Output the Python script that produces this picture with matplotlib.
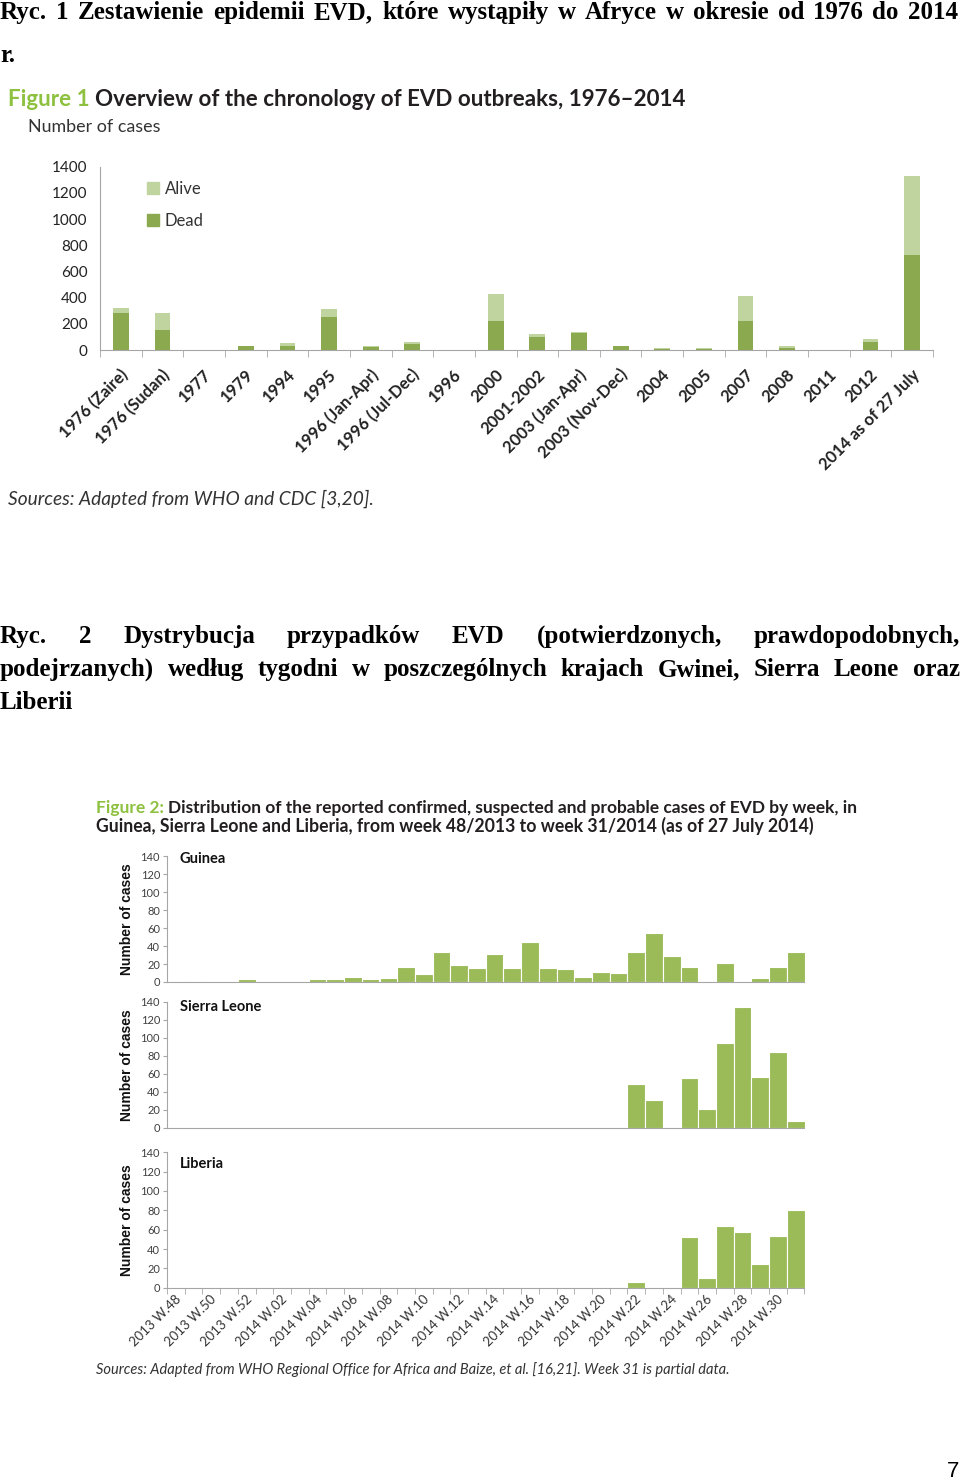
import matplotlib
matplotlib.use('Agg')
import matplotlib.pyplot as plt
from matplotlib.patches import Patch
from matplotlib.transforms import ScaledTranslation

plt.rcParams['font.family'] = ['Lato', 'DejaVu Sans']

# ---- Figure 1 data: EVD outbreaks 1976-2014 ----
outbreaks = ['1976 (Zaire)', '1976 (Sudan)', '1977', '1979', '1994', '1995',
             '1996 (Jan-Apr)', '1996 (Jul-Dec)', '1996', '2000', '2001-2002',
             '2003 (Jan-Apr)', '2003 (Nov-Dec)', '2004', '2005', '2007', '2008',
             '2011', '2012', '2014 as of 27 July']
dead = [280, 151, 1, 28, 31, 254, 25, 46, 1, 221, 100, 130, 29, 7, 10, 221, 15, 1, 58, 725]
alive = [38, 133, 0, 4, 25, 61, 3, 16, 0, 206, 20, 5, 2, 11, 3, 189, 13, 0, 29, 603]

# ---- Figure 2 data: weekly cases, 2013 W.48 .. 2014 W.31 ----
guinea = [0, 1, 0, 0, 3, 0, 0, 0, 3, 3, 6, 3, 5, 17, 9, 33, 19, 16,
          31, 16, 44, 16, 14, 6, 11, 10, 33, 54, 29, 17, 0, 21, 0, 5, 17, 33]
sierra_leone = [0, 0, 0, 0, 0, 0, 0, 0, 0, 0, 0, 0, 0, 0, 0, 0, 0, 0,
                0, 0, 0, 0, 0, 0, 0, 0, 49, 31, 0, 55, 21, 94, 134, 56, 84, 8]
liberia = [0, 0, 0, 0, 0, 0, 0, 0, 0, 0, 0, 0, 0, 0, 0, 0, 0, 0,
           0, 0, 0, 0, 0, 0, 0, 0, 6, 0, 0, 52, 10, 64, 58, 25, 53, 80]
week_labels = ['2013 W.48', '2013 W.50', '2013 W.52', '2014 W.02', '2014 W.04',
               '2014 W.06', '2014 W.08', '2014 W.10', '2014 W.12', '2014 W.14',
               '2014 W.16', '2014 W.18', '2014 W.20', '2014 W.22', '2014 W.24',
               '2014 W.26', '2014 W.28', '2014 W.30']

dead_c = '#8ba94f'
alive_c = '#c0d4a0'
bar_c = '#9bbb59'
green_t = '#8dc13f'
dark_t = '#231f20'
axis_c = '#a6a6a6'

W, H = 960, 1481
fig = plt.figure(figsize=(W / 100, H / 100), dpi=100)
fig.patch.set_facecolor('white')
rend = fig.canvas.get_renderer()


def fx(x):
    return x / W


def fy(y):
    return 1 - y / H


def wpx(t):
    return t.get_window_extent(renderer=rend).width


def put_line(x, y, parts, width=None, size=12, **kw):
    # parts: list of (text, colour); optionally scaled to a target width
    texts = [fig.text(fx(x), fy(y), s, color=c, fontsize=size, va='baseline', **kw)
             for s, c in parts]
    if width:
        size = size * width / sum(wpx(t) for t in texts)
        for t in texts:
            t.set_fontsize(size)
    cx = x
    for t in texts:
        t.set_x(fx(cx))
        cx += wpx(t)
    return texts


def justify(y, text, x0, x1, size, **kw):
    words = text.split(' ')
    texts = [fig.text(0, fy(y), w, fontsize=size, va='baseline', **kw) for w in words if w]
    ws = [wpx(t) for t in texts]
    gap = (x1 - x0 - sum(ws)) / (len(texts) - 1)
    cx = x0
    for t, w in zip(texts, ws):
        t.set_x(fx(cx))
        cx += w + gap


def add_ax(left, top, right, bottom):
    return fig.add_axes([fx(left), fy(bottom), (right - left) / W, (bottom - top) / H])


serif = dict(family='Liberation Serif', fontweight='bold', color='black')

# ---- Polish captions ----
justify(19, 'Ryc. 1 Zestawienie epidemii EVD, które wystąpiły w Afryce w okresie od 1976 do 2014',
        0, 958, 18, **serif)
fig.text(fx(0), fy(62), 'r.', fontsize=18, va='baseline', **serif)

justify(643, 'Ryc. 2 Dystrybucja przypadków EVD (potwierdzonych, prawdopodobnych,',
        0, 960, 18, **serif)
justify(676, 'podejrzanych) według tygodni w poszczególnych krajach Gwinei, Sierra Leone oraz',
        0, 960, 18, **serif)
fig.text(fx(0), fy(709), 'Liberii', fontsize=18, va='baseline', **serif)

# ---- Figure 1 ----
put_line(8, 106, [('Figure 1 ', green_t),
                  ('Overview of the chronology of EVD outbreaks, 1976\u20132014', dark_t)],
         width=680, size=15, fontweight='bold')
put_line(28, 132, [('Number of cases', '#333333')], width=132, size=11)

ax1 = add_ax(100, 166.7, 933, 350)
xs = range(len(outbreaks))
ax1.bar(xs, dead, width=0.38, color=dead_c, zorder=2)
ax1.bar(xs, alive, width=0.38, bottom=dead, color=alive_c, zorder=2)
ax1.set_xlim(-0.5, len(outbreaks) - 0.5)
ax1.set_ylim(0, 1400)
ax1.set_yticks(range(0, 1401, 200))
ax1.tick_params(axis='y', length=0, pad=9, labelsize=11, labelcolor='#222222')
ax1.set_xticks(list(xs))
ax1.set_xticklabels(outbreaks, rotation=45, ha='right', va='center',
                    rotation_mode='anchor', fontsize=12, fontweight='bold', color='#222222')
ax1.tick_params(axis='x', which='major', length=0, pad=16)
ax1.set_xticks([i - 0.5 for i in range(len(outbreaks) + 1)], minor=True)
ax1.tick_params(axis='x', which='minor', length=5, color=axis_c)
for lbl in ax1.get_xticklabels():
    lbl.set_transform(lbl.get_transform() + ScaledTranslation(0.05, 0, fig.dpi_scale_trans))
for s in ['top', 'right']:
    ax1.spines[s].set_visible(False)
for s in ['left', 'bottom']:
    ax1.spines[s].set_color(axis_c)
ax1.legend(handles=[Patch(color=alive_c, label='Alive'), Patch(color=dead_c, label='Dead')],
           loc='upper left', bbox_to_anchor=(0.047, 0.967), frameon=False, fontsize=12,
           handlelength=0.7, handleheight=0.7, handletextpad=0.35, labelspacing=0.95,
           borderpad=0, labelcolor='#333333')

put_line(8, 505, [('Sources: Adapted from WHO and CDC [3,20].', '#333333')],
         width=364, size=12, style='italic')

# ---- Figure 2 ----
put_line(96, 813, [('Figure 2: ', green_t),
                   ('Distribution of the reported confirmed, suspected and probable cases of EVD by week, in', dark_t)],
         width=754, size=12, fontweight='bold')
put_line(96, 832, [('Guinea, Sierra Leone and Liberia, from week 48/2013 to week 31/2014 (as of 27 July 2014)', dark_t)],
         width=712, size=12, fontweight='bold')

# name, values, axes top, axes bottom, country label y (pixels)
panels = [('Guinea', guinea, 856, 982, 859),
          ('Sierra Leone', sierra_leone, 1001.7, 1127.7, 1007),
          ('Liberia', liberia, 1152.3, 1287.7, 1164)]
weeks = range(len(guinea))
for i, (name, vals, top, bottom, ly) in enumerate(panels):
    ax = add_ax(167, top, 804.5, bottom)
    ax.bar(weeks, vals, width=1.0, color=bar_c, edgecolor='white', linewidth=0.8, zorder=2)
    ax.set_xlim(-0.5, len(guinea) - 0.5)
    ax.set_ylim(0, 140)
    ax.set_yticks(range(0, 141, 20))
    ax.tick_params(axis='y', length=3, color=axis_c, pad=2, labelsize=8, labelcolor='#404040')
    for s in ['top', 'right']:
        ax.spines[s].set_visible(False)
    for s in ['left', 'bottom']:
        ax.spines[s].set_color(axis_c)
    ax.set_ylabel('Number of cases', family='Liberation Sans', fontweight='bold',
                  fontsize=10, color='#111111')
    ax.yaxis.set_label_coords(-0.052, 0.5)
    fig.text(fx(180), fy(ly), name, fontsize=10.5, fontweight='bold',
             color='#111111', va='center')
    if i < 2:
        ax.set_xticks([])
    else:
        ax.set_xticks(list(range(0, len(guinea) - 1, 2)))
        ax.set_xticklabels(week_labels, rotation=45, ha='right', va='center',
                           rotation_mode='anchor', fontsize=9.5, color='#333333')
        ax.tick_params(axis='x', which='major', length=0, pad=7)
        ax.set_xticks([k - 0.5 for k in range(len(guinea) + 1)], minor=True)
        ax.tick_params(axis='x', which='minor', length=4, color=axis_c)
        for lbl in ax.get_xticklabels():
            lbl.set_transform(lbl.get_transform() + ScaledTranslation(0.03, 0, fig.dpi_scale_trans))

put_line(96, 1374, [('Sources: Adapted from WHO Regional Office for Africa and Baize, et al. [16,21]. '
                     'Week 31 is partial data.', '#333333')],
         width=634, size=10, style='italic')

fig.text(fx(959), fy(1477), '7', fontsize=16, family='Liberation Sans', ha='right',
         va='baseline', color='black')

fig.savefig('out.png', dpi=100, facecolor='white')
